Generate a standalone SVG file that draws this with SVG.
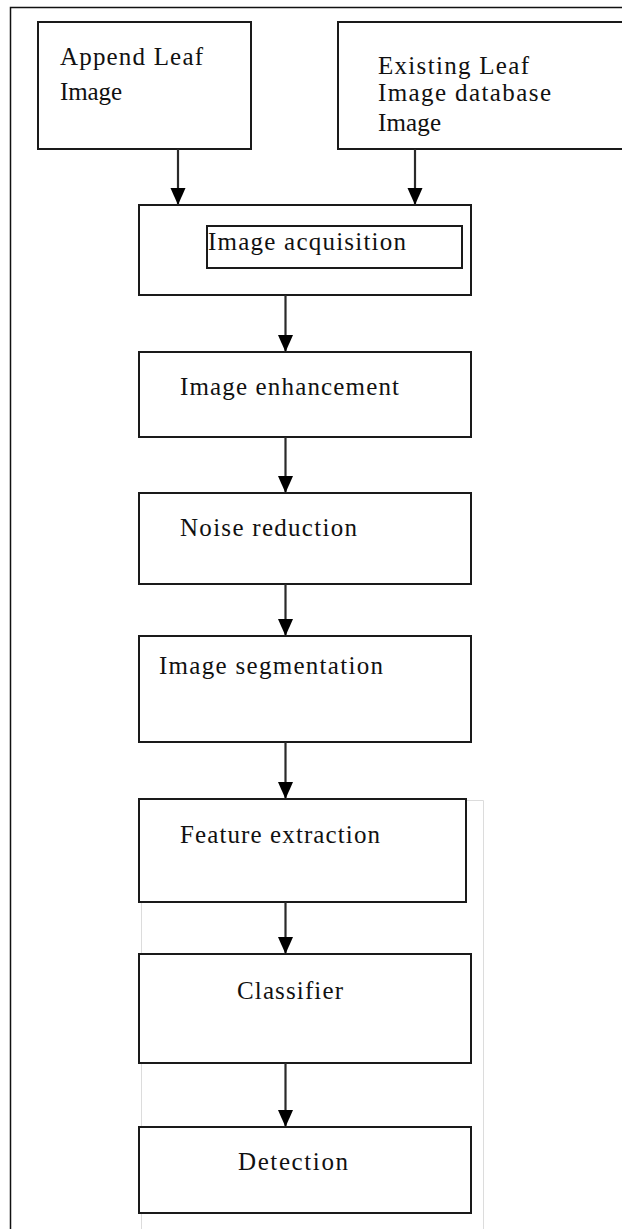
<svg xmlns="http://www.w3.org/2000/svg" width="622" height="1229" viewBox="0 0 622 1229">
  <style>
    .box { fill: #ffffff; stroke: #1a1a1a; stroke-width: 2; }
    .lbl { font-family: "Liberation Serif", "Times New Roman", serif; font-size: 25px; fill: #111; }
    .edge { stroke: #2a2a2a; stroke-width: 2.2; fill: none; marker-end: url(#head); }
    .frame { stroke: #111; stroke-width: 1.5; fill: none; }
    .guide { stroke: #dcdcdc; stroke-width: 1; fill: none; }
  </style>
  <defs>
    <!-- filled arrowhead, drawn along +x so orient="auto" turns it down the line -->
    <marker id="head" markerUnits="userSpaceOnUse" markerWidth="18" markerHeight="16" refX="17" refY="7.5" orient="auto" viewBox="0 0 18 15">
      <path d="M0,0 L17,7.5 L0,15 Z" fill="#000"/>
    </marker>
  </defs>
  <rect width="622" height="1229" fill="#ffffff"/>

  <!-- page frame and faint guide lines -->
  <g id="frame">
    <path class="frame" d="M10.5,1229 V7.5 H622"/>
    <path class="guide" d="M466,800.5 H483.5 V1229 M141.5,902 V1229"/>
  </g>

  <g id="append-leaf">
    <rect class="box" x="38" y="22" width="213" height="127"/>
    <text class="lbl" x="60" y="65" textLength="143" lengthAdjust="spacing">Append Leaf</text>
    <text class="lbl" x="60" y="100" textLength="62" lengthAdjust="spacing">Image</text>
  </g>

  <g id="existing-leaf">
    <rect class="box" x="338" y="22" width="300" height="127"/>
    <text class="lbl" x="378" y="74" textLength="151" lengthAdjust="spacing">Existing Leaf</text>
    <text class="lbl" x="378" y="101" textLength="173" lengthAdjust="spacing">Image database</text>
    <text class="lbl" x="378" y="131" textLength="63" lengthAdjust="spacing">Image</text>
  </g>

  <g id="image-acquisition">
    <rect class="box" x="139" y="205" width="332" height="90"/>
    <rect class="box" x="207" y="226" width="255" height="42"/>
    <text class="lbl" x="208" y="250" textLength="198" lengthAdjust="spacing">Image acquisition</text>
  </g>

  <g id="image-enhancement">
    <rect class="box" x="139" y="352" width="332" height="85"/>
    <text class="lbl" x="180" y="395" textLength="219" lengthAdjust="spacing">Image enhancement</text>
  </g>

  <g id="noise-reduction">
    <rect class="box" x="139" y="493" width="332" height="91"/>
    <text class="lbl" x="180" y="536" textLength="177" lengthAdjust="spacing">Noise reduction</text>
  </g>

  <g id="image-segmentation">
    <rect class="box" x="139" y="636" width="332" height="106"/>
    <text class="lbl" x="159" y="674" textLength="224" lengthAdjust="spacing">Image segmentation</text>
  </g>

  <g id="feature-extraction">
    <rect class="box" x="139" y="799" width="327" height="103"/>
    <text class="lbl" x="180" y="843" textLength="200" lengthAdjust="spacing">Feature extraction</text>
  </g>

  <g id="classifier">
    <rect class="box" x="139" y="954" width="332" height="109"/>
    <text class="lbl" x="237" y="999" textLength="106" lengthAdjust="spacing">Classifier</text>
  </g>

  <g id="detection">
    <rect class="box" x="139" y="1127" width="332" height="86"/>
    <text class="lbl" x="238" y="1170" textLength="110" lengthAdjust="spacing">Detection</text>
  </g>

  <g id="connectors">
    <line class="edge" x1="178" y1="149" x2="178" y2="205"/>
    <line class="edge" x1="415" y1="149" x2="415" y2="205"/>
    <line class="edge" x1="285.5" y1="295" x2="285.5" y2="352"/>
    <line class="edge" x1="285.5" y1="437" x2="285.5" y2="493"/>
    <line class="edge" x1="285.5" y1="584" x2="285.5" y2="636"/>
    <line class="edge" x1="285.5" y1="742" x2="285.5" y2="799"/>
    <line class="edge" x1="285.5" y1="902" x2="285.5" y2="954"/>
    <line class="edge" x1="285.5" y1="1063" x2="285.5" y2="1127"/>
  </g>
</svg>
